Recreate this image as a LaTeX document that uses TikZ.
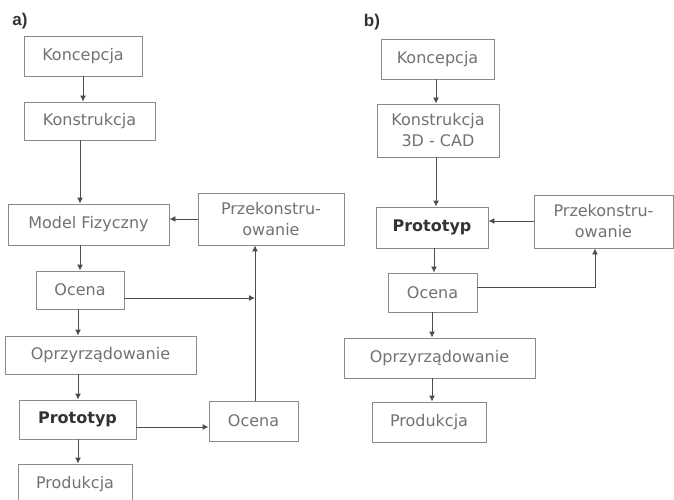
\documentclass[tikz,border=0pt]{standalone}
\usepackage{fontspec}
\setmainfont{DejaVu Sans}
\newfontfamily\labfont{Liberation Sans}
\usetikzlibrary{arrows.meta}
\definecolor{boxline}{HTML}{8A8A8A}
\definecolor{boxtext}{HTML}{727272}
\definecolor{arrcol}{HTML}{4A4F4A}
\definecolor{boldtext}{HTML}{333333}
\tikzset{
  box/.style={draw=boxline, line width=0.9pt, inner sep=0pt, text=boxtext,
    font=\fontsize{16}{21}\selectfont, align=center},
  boldbox/.style={box, text=boldtext, font=\fontsize{16}{21}\selectfont\bfseries},
  arr/.style={draw=arrcol, line width=0.9pt, -{Latex[length=6pt,width=6pt]}},
  plain/.style={draw=arrcol, line width=0.9pt},
  panel/.style={font=\labfont\fontsize{17}{20}\selectfont\bfseries, text=boldtext, inner sep=0pt}
}
\begin{document}
\begin{tikzpicture}[x=1pt,y=-1pt]
\clip (0,0) rectangle (674,500);
\fill[white] (0,0) rectangle (674,500);
% panel a
\node[panel] (la) at (20,21) {a)};
\node[box, minimum width=118, minimum height=40] (konA) at (83,56) {Koncepcja};
\node[box, minimum width=131, minimum height=38] (kstA) at (89.5,121) {Konstrukcja};
\node[box, minimum width=161, minimum height=41] (modA) at (88.5,224.5) {Model Fizyczny};
\node[box, minimum width=146, minimum height=52] (przA) at (271,219) {Przekonstru-\\owanie};
\node[box, minimum width=88, minimum height=38] (ocA) at (80,290) {Ocena};
\node[box, minimum width=191, minimum height=38] (oprA) at (100.5,355) {Oprzyrządowanie};
\node[boldbox, minimum width=117, minimum height=39] (proA) at (77.5,419.5) {Prototyp};
\node[box, minimum width=89, minimum height=40] (oc2A) at (253.5,421) {Ocena};
\node[box, minimum width=114, minimum height=41] (prodA) at (75,484.5) {Produkcja};
\coordinate (c1) at (83,0);
\coordinate (c2) at (80,0);
\coordinate (c3) at (78,0);
\coordinate (ja) at (255,298);
\coordinate (ra) at (0,219);
\coordinate (rb) at (0,427);
\draw[arr] (konA.south -| c1) -- (kstA.north -| c1);
\draw[arr] (kstA.south -| c2) -- (modA.north -| c2);
\draw[arr] (modA.south -| c2) -- (ocA.north -| c2);
\draw[arr] (ocA.south -| c3) -- (oprA.north -| c3);
\draw[arr] (oprA.south -| c3) -- (proA.north -| c3);
\draw[arr] (proA.south -| c3) -- (prodA.north -| c3);
\draw[arr] (przA.west |- ra) -- (modA.east |- ra);
\draw[arr] (proA.east |- rb) -- (oc2A.west |- rb);
\draw[arr] (ocA.east |- ja) -- (ja);
\draw[arr] (ja |- oc2A.north) -- (ja |- przA.south);
% panel b
\node[panel] (lb) at (372,22) {b)};
\node[box, minimum width=113, minimum height=40] (konB) at (437.5,59) {Koncepcja};
\node[box, minimum width=122, minimum height=53] (kstB) at (438,130.5) {Konstrukcja\\3D - CAD};
\node[boldbox, minimum width=112, minimum height=41] (proB) at (432,227.5) {Prototyp};
\node[box, minimum width=139, minimum height=53] (przB) at (603.5,221.5) {Przekonstru-\\owanie};
\node[box, minimum width=89, minimum height=39] (ocB) at (432.5,292.5) {Ocena};
\node[box, minimum width=191, minimum height=40] (oprB) at (439.5,358) {Oprzyrządowanie};
\node[box, minimum width=114, minimum height=40] (prodB) at (429,422) {Produkcja};
\coordinate (d1) at (436,0);
\coordinate (d2) at (434,0);
\coordinate (d3) at (432,0);
\coordinate (jb) at (595,287);
\coordinate (rc) at (0,221);
\draw[arr] (konB.south -| d1) -- (kstB.north -| d1);
\draw[arr] (kstB.south -| d1) -- (proB.north -| d1);
\draw[arr] (proB.south -| d2) -- (ocB.north -| d2);
\draw[arr] (ocB.south -| d3) -- (oprB.north -| d3);
\draw[arr] (oprB.south -| d3) -- (prodB.north -| d3);
\draw[arr] (przB.west |- rc) -- (proB.east |- rc);
\draw[arr] (ocB.east |- jb) -- (jb) -- (jb |- przB.south);
\end{tikzpicture}
\end{document}
